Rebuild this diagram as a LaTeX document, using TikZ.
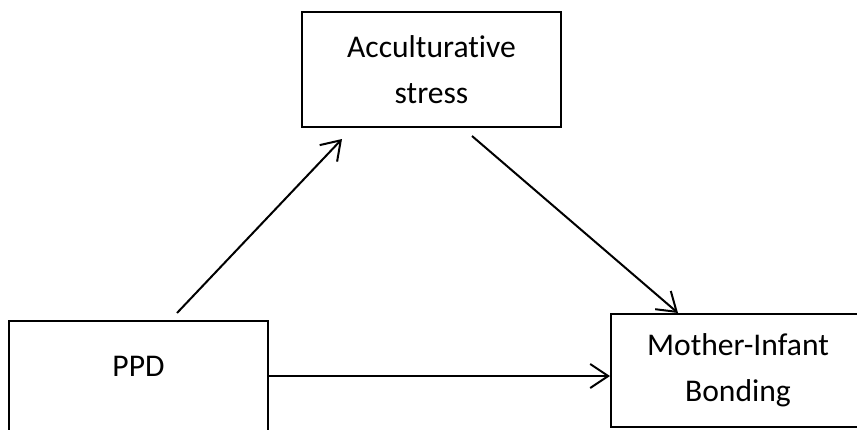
\documentclass[tikz,border=0pt]{standalone}
\usepackage{fontspec}
\setmainfont[Ligatures=NoCommon]{Carlito}
\usetikzlibrary{arrows.meta,positioning}

\begin{document}
\begin{tikzpicture}[x=0.5pt, y=-0.5pt,
        box/.style={draw, line width=1pt, inner sep=0pt, align=center,
                font=\fontsize{15.8}{23}\selectfont},
        link/.style={line width=1pt, -{Straight Barb[length=9pt, width=12pt]}}]
        \useasboundingbox (0, 0) rectangle (857, 429);
        \clip (0, 0) rectangle (857, 429);

        \node[box, minimum width=129.5pt, minimum height=57.5pt] (stress) at (431.5, 69.5) {Acculturative\\stress};
        \node[box, minimum width=129.5pt, text height=27.5pt, text depth=42.5pt, anchor=north] (ppd) at (138.5, 320) {PPD};
        \node[box, minimum width=127pt, minimum height=56.5pt] (bonding) at (738, 370.5) {Mother-Infant\\Bonding};

        \draw[link] ([xshift=19.25pt, yshift=3.5pt]ppd.north) -- ([xshift=-44.75pt, yshift=-5.5pt]stress.south);
        \draw[link] ([xshift=20.25pt, yshift=-4pt]stress.south) -- ([xshift=-30pt]bonding.north);
        \draw[link] (ppd.base east) -- (ppd.base east -| bonding.west);
\end{tikzpicture}
\end{document}
